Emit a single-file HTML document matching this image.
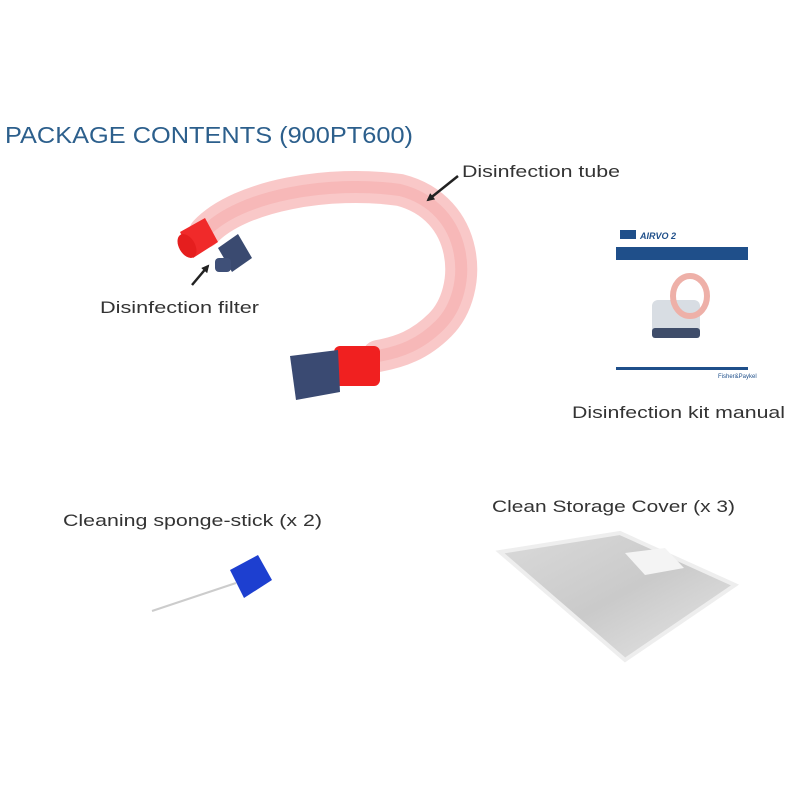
<!DOCTYPE html>
<html><head><style>
body{margin:0;background:#fff;}
svg{display:block;}
text{font-family:"Liberation Sans",sans-serif;fill:#333;}
</style></head><body>
<svg width="800" height="800" viewBox="0 0 800 800" xmlns="http://www.w3.org/2000/svg">
<defs>
<marker id="ah" markerWidth="8" markerHeight="8" refX="6" refY="4" orient="auto" markerUnits="userSpaceOnUse"><path d="M0,0 L8,4 L0,8 z" fill="#222"/></marker>
<linearGradient id="cov" x1="0" y1="0" x2="1" y2="1"><stop offset="0" stop-color="#d6d6d6"/><stop offset="0.5" stop-color="#c4c4c4"/><stop offset="1" stop-color="#e4e4e4"/></linearGradient>
</defs>
<text x="5" y="143" font-size="23" textLength="408" lengthAdjust="spacingAndGlyphs" style="fill:#2c5f8c">PACKAGE CONTENTS (900PT600)</text>

<!-- tube -->
<path d="M205,232 C240,195 330,180 400,190 C470,208 475,290 440,325 C420,345 400,352 378,356" fill="none" stroke="#f8c2c2" stroke-width="32" stroke-linecap="round" opacity="0.9"/>
<path d="M205,232 C240,195 330,180 400,190 C470,208 475,290 440,325 C420,345 400,352 378,356" fill="none" stroke="#f4a5a5" stroke-width="12" opacity="0.45"/>
<!-- red end left -->
<path d="M180,232 L205,218 L218,242 L193,258 Z" fill="#f02a2a"/>
<ellipse cx="187" cy="246" rx="8" ry="13" fill="#e51e1e" transform="rotate(-30 187 246)"/>
<!-- filter -->
<path d="M218,248 L238,234 L252,258 L232,272 Z" fill="#3a4a70"/>
<rect x="215" y="258" width="16" height="14" rx="4" fill="#3f5078"/>
<!-- red cuff bottom -->
<rect x="334" y="346" width="46" height="40" rx="6" fill="#f02020"/>
<path d="M290,356 L338,350 L340,392 L296,400 Z" fill="#3a4a72"/>

<!-- arrows -->
<line x1="458" y1="176" x2="428" y2="200" stroke="#222" stroke-width="2.5" marker-end="url(#ah)"/>
<line x1="192" y1="285" x2="208" y2="266" stroke="#222" stroke-width="2.5" marker-end="url(#ah)"/>

<text x="462" y="177" font-size="17" textLength="158" lengthAdjust="spacingAndGlyphs">Disinfection tube</text>
<text x="100" y="313" font-size="17" textLength="159" lengthAdjust="spacingAndGlyphs">Disinfection filter</text>

<!-- manual -->
<rect x="620" y="230" width="16" height="9" fill="#1f4f8a"/>
<text x="640" y="239" font-size="9" font-style="italic" font-weight="bold" style="fill:#1f4f8a">AIRVO 2</text>
<rect x="616" y="247" width="132" height="13" fill="#1f4f8a"/>
<rect x="652" y="300" width="48" height="35" rx="6" fill="#d8dde3"/>
<rect x="652" y="328" width="48" height="10" rx="3" fill="#3f4d6a"/>
<ellipse cx="690" cy="296" rx="17" ry="20" fill="none" stroke="#eeb0a8" stroke-width="6"/>
<rect x="616" y="367" width="132" height="3" fill="#1f4f8a"/>
<text x="718" y="378" font-size="6" style="fill:#1f4f8a">Fisher&amp;Paykel</text>
<text x="572" y="418" font-size="17" textLength="213" lengthAdjust="spacingAndGlyphs">Disinfection kit manual</text>

<!-- sponge stick -->
<line x1="152" y1="611" x2="236" y2="583" stroke="#ccc" stroke-width="2"/>
<path d="M230,570 L258,555 L272,580 L244,598 Z" fill="#1d3fd0"/>
<text x="63" y="526" font-size="17" textLength="259" lengthAdjust="spacingAndGlyphs">Cleaning sponge-stick (x 2)</text>

<!-- cover -->
<path d="M500,552 L620,533 L735,585 L625,660 Z" fill="url(#cov)" opacity="0.9"/>
<path d="M500,552 L620,533 L735,585 L625,660 Z" fill="none" stroke="#eee" stroke-width="4"/>
<path d="M625,553 L665,548 L684,568 L645,575 Z" fill="#f4f4f4"/>
<text x="492" y="512" font-size="17" textLength="243" lengthAdjust="spacingAndGlyphs">Clean Storage Cover (x 3)</text>
</svg>
</body></html>
